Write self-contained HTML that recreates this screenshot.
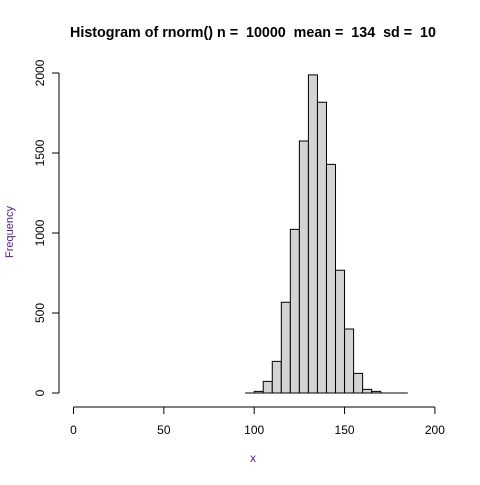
<!DOCTYPE html>
<html><head><style>body{margin:0;background:#fff}svg{font-family:"Liberation Sans",sans-serif}</style></head>
<body>
<svg id="c" width="480" height="480" xmlns="http://www.w3.org/2000/svg">
<rect width="480" height="480" fill="#fff"/>
<text x="253" y="37" text-anchor="middle" font-weight="bold" font-size="14.3" style="white-space:pre" xml:space="preserve">Histogram of rnorm() n =  10000  mean =  134  sd =  10</text>
<text x="253" y="462" text-anchor="middle" font-size="12" fill="#551a8b">x</text>
<text transform="translate(13,232) rotate(-90)" text-anchor="middle" font-size="11" fill="#551a8b">Frequency</text>
<g id="bars"></g><g id="axes"></g>
</svg>
<script>
const binStarts=[95,100,105,110,115,120,125,130,135,140,145,150,155,160,165,170,175,180];
const counts=[0,10,73,198,567,1023,1575,1988,1817,1429,767,400,123,23,10,0,0,0];
const xTicks=[0,50,100,150,200];
const yTicks=[0,500,1000,1500,2000];
const binWidth=5;
const NS="http://www.w3.org/2000/svg";
const sx=v=>73.5+v*1.807;
const sy=v=>393-v*0.16;
const bars=document.getElementById('bars'),axes=document.getElementById('axes');
function mk(tag,attrs,parent){const e=document.createElementNS(NS,tag);for(const k in attrs)e.setAttribute(k,attrs[k]);parent.appendChild(e);return e;}
binStarts.forEach((b,i)=>{
  const x0=sx(b),x1=sx(b+binWidth),y0=sy(0),y1=sy(counts[i]);
  const r=mk('path',{d:`M${x0},${y0}V${y1}H${x1}V${y0}Z`,fill:'#d3d3d3',stroke:'#000','stroke-width':1},bars);
  
  
});
const xa=mk('line',{x1:sx(xTicks[0]),x2:sx(xTicks[xTicks.length-1]),y1:407,y2:407,stroke:'#000'},axes);


xTicks.forEach(t=>{
  mk('line',{x1:sx(t),x2:sx(t),y1:407,y2:414,stroke:'#000'},axes);
  const tx=mk('text',{x:sx(t),y:434,'text-anchor':'middle','font-size':12},axes);tx.textContent=t;
  
  
});
const ya=mk('line',{x1:59,x2:59,y1:sy(yTicks[0]),y2:sy(yTicks[yTicks.length-1]),stroke:'#000'},axes);


yTicks.forEach(t=>{
  mk('line',{x1:52,x2:59,y1:sy(t),y2:sy(t),stroke:'#000'},axes);
  const tx=mk('text',{transform:`translate(44,${sy(t)}) rotate(-90)`,'text-anchor':'middle','font-size':12},axes);tx.textContent=t;
  
  
});
</script>
</body></html>
